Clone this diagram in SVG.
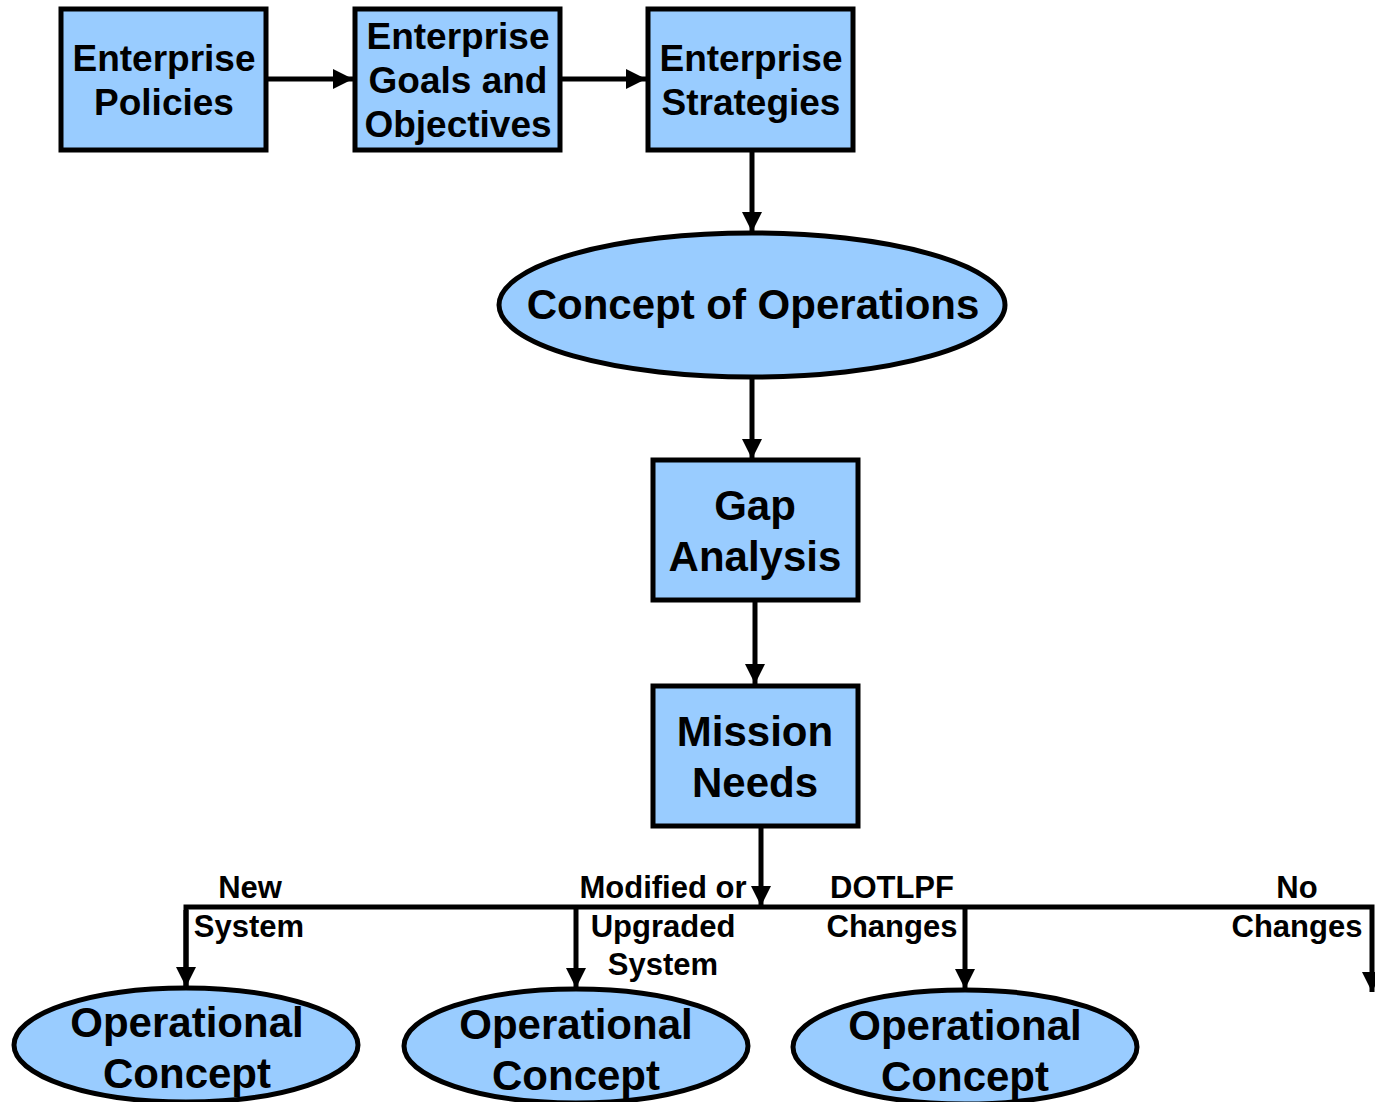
<svg xmlns="http://www.w3.org/2000/svg" width="1375" height="1102" viewBox="0 0 1375 1102">
<defs>
<style>
.box{fill:#99CCFF;stroke:#000;stroke-width:5}
.t{font-family:"Liberation Sans",Arial,sans-serif;font-weight:bold;fill:#000;text-anchor:middle}
.s37{font-size:37px}
.s42{font-size:42px}
.lb{font-size:31px}
.c{fill:none;stroke:#000;stroke-width:5}
</style>
<marker id="ah" viewBox="0 0 10 10" refX="10" refY="5" markerWidth="4" markerHeight="4" markerUnits="strokeWidth" orient="auto">
<path d="M0,0 L10,5 L0,10 Z" fill="#000"/>
</marker>
</defs>
<rect width="1375" height="1102" fill="#fff"/>
<g id="connectors">
<line class="c" x1="266" y1="79" x2="353" y2="79" marker-end="url(#ah)"/>
<line class="c" x1="560" y1="79" x2="646" y2="79" marker-end="url(#ah)"/>
<line class="c" x1="752" y1="150" x2="752" y2="232" marker-end="url(#ah)"/>
<line class="c" x1="752" y1="377" x2="752" y2="459" marker-end="url(#ah)"/>
<line class="c" x1="755" y1="600" x2="755" y2="684" marker-end="url(#ah)"/>
<line class="c" x1="761" y1="826" x2="761" y2="906" marker-end="url(#ah)"/>
<polyline class="c" points="186,987 186,907 1372,907 1372,992" marker-end="url(#ah)"/>
<line class="c" x1="576" y1="907" x2="576" y2="988" marker-end="url(#ah)"/>
<line class="c" x1="965" y1="907" x2="965" y2="989" marker-end="url(#ah)"/>
<line class="c" x1="186" y1="910" x2="186" y2="987" marker-end="url(#ah)"/>
<text class="t lb" x="250" y="898">New</text>
<text class="t lb" x="249" y="937">System</text>
<text class="t lb" x="663" y="898">Modified or</text>
<text class="t lb" x="663" y="937">Upgraded</text>
<text class="t lb" x="663" y="975">System</text>
<text class="t lb" x="892" y="898">DOTLPF</text>
<text class="t lb" x="892" y="937">Changes</text>
<text class="t lb" x="1297" y="898">No</text>
<text class="t lb" x="1297" y="937">Changes</text>
</g>
<g id="enterprise-policies">
<rect class="box" x="61" y="9" width="205" height="141"/>
<text class="t s37" x="164" y="71">Enterprise</text>
<text class="t s37" x="164" y="115">Policies</text>
</g>
<g id="enterprise-goals">
<rect class="box" x="355" y="9" width="205" height="141"/>
<text class="t s37" x="458" y="49">Enterprise</text>
<text class="t s37" x="458" y="93">Goals and</text>
<text class="t s37" x="458" y="137">Objectives</text>
</g>
<g id="enterprise-strategies">
<rect class="box" x="648" y="9" width="205" height="141"/>
<text class="t s37" x="751" y="71">Enterprise</text>
<text class="t s37" x="751" y="115">Strategies</text>
</g>
<g id="concept-of-operations">
<ellipse class="box" cx="752" cy="305" rx="253" ry="72"/>
<text class="t s42" x="753" y="319">Concept of Operations</text>
</g>
<g id="gap-analysis">
<rect class="box" x="653" y="460" width="205" height="140"/>
<text class="t s42" x="755" y="520">Gap</text>
<text class="t s42" x="755" y="571">Analysis</text>
</g>
<g id="mission-needs">
<rect class="box" x="653" y="686" width="205" height="140"/>
<text class="t s42" x="755" y="746">Mission</text>
<text class="t s42" x="755" y="797">Needs</text>
</g>
<g id="opcon-new">
<ellipse class="box" cx="186" cy="1045" rx="172" ry="57"/>
<text class="t s42" x="187" y="1037">Operational</text>
<text class="t s42" x="187" y="1088">Concept</text>
</g>
<g id="opcon-modified">
<ellipse class="box" cx="576" cy="1046" rx="172" ry="57"/>
<text class="t s42" x="576" y="1039">Operational</text>
<text class="t s42" x="576" y="1090">Concept</text>
</g>
<g id="opcon-dotlpf">
<ellipse class="box" cx="965" cy="1047" rx="172" ry="57"/>
<text class="t s42" x="965" y="1040">Operational</text>
<text class="t s42" x="965" y="1091">Concept</text>
</g>
</svg>
